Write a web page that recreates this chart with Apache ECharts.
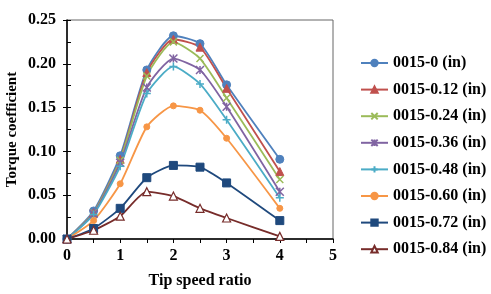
<!DOCTYPE html>
<html>
<head>
<meta charset="utf-8">
<script src="https://cdn.jsdelivr.net/npm/echarts@6/dist/echarts.min.js"></script>
<style>
  html, body { margin: 0; padding: 0; background: #fff; }
  #chart { width: 491px; height: 294px; }
</style>
</head>
<body>
<div id="chart"></div>
<script>
// tip speed ratio points
const tsr = [0, 0.5, 1, 1.5, 2, 2.5, 3, 4];

// torque coefficient per configuration
const cq_0 = [0, 0.032, 0.095, 0.193, 0.232, 0.223, 0.176, 0.091];
const cq_012 = [0, 0.030, 0.091, 0.190, 0.228, 0.219, 0.172, 0.077];
const cq_024 = [0, 0.030, 0.090, 0.186, 0.225, 0.206, 0.161, 0.068];
const cq_036 = [0, 0.029, 0.087, 0.173, 0.206, 0.193, 0.151, 0.054];
const cq_048 = [0, 0.028, 0.083, 0.166, 0.197, 0.177, 0.136, 0.047];
const cq_060 = [0, 0.021, 0.063, 0.128, 0.152, 0.147, 0.115, 0.035];
const cq_072 = [0, 0.012, 0.035, 0.070, 0.084, 0.082, 0.064, 0.021];
const cq_084 = [0, 0.010, 0.026, 0.054, 0.049, 0.035, 0.024, 0.003];

const names = [
  "0015-0 (in)", "0015-0.12 (in)", "0015-0.24 (in)", "0015-0.36 (in)",
  "0015-0.48 (in)", "0015-0.60 (in)", "0015-0.72 (in)", "0015-0.84 (in)"
];
const yTicks = [0, 0.05, 0.1, 0.15, 0.2, 0.25];

const font = "'Liberation Serif', 'Times New Roman', serif";
const chart = echarts.init(document.getElementById("chart"));

const xPath = "path://M0,0L10,10M10,0L0,10";
const starPath = "path://M0,0L10,10M10,0L0,10M5,0L5,10";
const plusPath = "path://M5,0L5,10M0,5L10,5";

const mk = (name, vals, color, symbol, size, opts = {}) => ({
  name,
  type: "line",
  smooth: 0.2,
  data: tsr.map((x, i) => [x, vals[i]]),
  symbol,
  symbolSize: size,
  lineStyle: { color, width: 1.8 },
  itemStyle: Object.assign({ color, borderColor: color, borderWidth: 1 }, opts),
  emphasis: { disabled: true },
});

const option = {
  backgroundColor: "#fff",
  animation: false,
  textStyle: { fontFamily: font, color: "#000" },
  grid: {
    left: 67, top: 20, right: 158, bottom: 55,
    outerBoundsMode: "none",
    containLabel: false,
    show: true, borderColor: "#666", borderWidth: 1,
  },
  legend: {
    orient: "vertical",
    left: 360,
    top: 55,
    padding: 0,
    itemWidth: 27,
    itemHeight: 8,
    itemGap: 10.6,
    textStyle: { fontFamily: font, fontSize: 16, fontWeight: "bold", color: "#000" },
    data: names,
  },
  xAxis: {
    type: "value",
    min: 0, max: 5, interval: 0.5,
    name: "Tip speed ratio",
    nameLocation: "middle",
    nameGap: 34,
    nameMoveOverlap: false,
    nameTextStyle: { fontFamily: font, fontSize: 16, fontWeight: "bold", color: "#000" },
    axisLine: { lineStyle: { color: "#000", width: 1.5 } },
    axisTick: { lineStyle: { color: "#000" }, length: 4 },
    axisLabel: {
      fontFamily: font, fontSize: 16, fontWeight: "bold", color: "#000", margin: 9,
      formatter: v => (Number.isInteger(v) ? String(v) : ""),
    },
    splitLine: { show: false },
  },
  yAxis: [
    {
      type: "value",
      min: 0, max: 0.25, interval: 0.05,
      name: "Torque coefficient",
      nameLocation: "middle",
      nameGap: 47,
      nameMoveOverlap: false,
      nameTextStyle: { fontFamily: font, fontSize: 15, fontWeight: "bold", color: "#000" },
      axisLine: { show: true, lineStyle: { color: "#000", width: 1.5 } },
      axisTick: { show: true, lineStyle: { color: "#000" }, length: 4 },
      axisLabel: {
        fontFamily: font, fontSize: 16, fontWeight: "bold", color: "#000", margin: 11,
        formatter: v => v.toFixed(2),
        customValues: yTicks,
      },
      splitLine: { show: false },
    },
    {
      type: "value",
      position: "left",
      min: 0, max: 0.25, interval: 0.025,
      axisLine: { show: false },
      axisTick: { show: true, inside: true, length: 4, lineStyle: { color: "#000" } },
      axisLabel: { show: false },
      splitLine: { show: false },
    },
  ],
  series: [
    mk(names[0], cq_0, "#4F81BD", "circle", 8),
    mk(names[1], cq_012, "#C0504D", "triangle", 8),
    mk(names[2], cq_024, "#9BBB59", xPath, 7, { borderWidth: 1.5 }),
    mk(names[3], cq_036, "#8064A2", starPath, 8, { borderWidth: 1.5 }),
    mk(names[4], cq_048, "#4BACC6", plusPath, 8, { borderWidth: 1.5 }),
    mk(names[5], cq_060, "#F79646", "circle", 6),
    mk(names[6], cq_072, "#1F497D", "rect", 8),
    mk(names[7], cq_084, "#772C2A", "triangle", 8, { color: "#fff", borderColor: "#772C2A", borderWidth: 1.2 }),
  ],
};

chart.setOption(option);
</script>
</body>
</html>
